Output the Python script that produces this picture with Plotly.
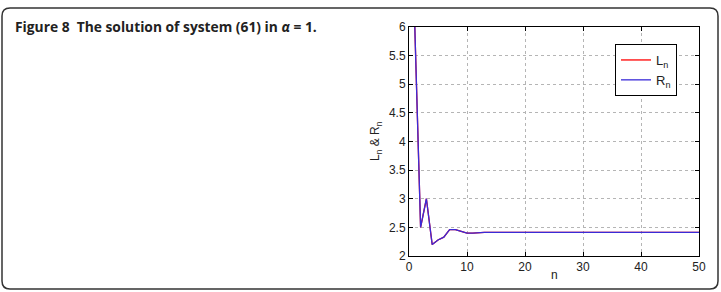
import plotly.graph_objects as go

n_vals = list(range(1, 51))
L_vals = [6.0, 2.5, 3.0, 2.2, 2.28, 2.33, 2.46, 2.46, 2.43, 2.40, 2.40, 2.41] + [2.414] * 38
R_vals = list(L_vals)
x_ticks = [0, 10, 20, 30, 40, 50]
y_ticks = [2, 2.5, 3, 3.5, 4, 4.5, 5, 5.5, 6]
y_tick_text = ["2", "2.5", "3", "3.5", "4", "4.5", "5", "5.5", "6"]

W, H = 721, 292
PL, PR, PT, PB = 409, 699, 27, 256

def px(x):
    return (x - PL) / (PR - PL)

def py(y):
    return (PB - y) / (PB - PT)

fig = go.Figure()
fig.add_trace(go.Scatter(x=n_vals, y=L_vals, mode="lines", name="L<sub>n</sub>",
                         line=dict(color="#ff0000", width=1.3)))
fig.add_trace(go.Scatter(x=n_vals, y=R_vals, mode="lines", name="R<sub>n</sub>",
                         line=dict(color="#3a2bd8", width=1.3)))

axis_common = dict(showline=True, linecolor="black", linewidth=1, mirror="ticks",
                   ticks="inside", ticklen=4, tickcolor="black",
                   showgrid=True, gridcolor="#b5b5b5", griddash="dot", gridwidth=1,
                   zeroline=False, tickfont=dict(family="Liberation Sans", size=12, color="#222"))

fig.update_xaxes(range=[0, 50], tickvals=x_ticks, **axis_common)
fig.update_yaxes(range=[2, 6], tickvals=y_ticks, ticktext=y_tick_text, **axis_common)

# card border with rounded corners
x0, y0, x1, y1, r = 2, 8, 718, 289, 8
path = (f"M {px(x0+r)},{py(y0)} L {px(x1-r)},{py(y0)} Q {px(x1)},{py(y0)} {px(x1)},{py(y0+r)} "
        f"L {px(x1)},{py(y1-r)} Q {px(x1)},{py(y1)} {px(x1-r)},{py(y1)} "
        f"L {px(x0+r)},{py(y1)} Q {px(x0)},{py(y1)} {px(x0)},{py(y1-r)} "
        f"L {px(x0)},{py(y0+r)} Q {px(x0)},{py(y0)} {px(x0+r)},{py(y0)} Z")
fig.add_shape(type="path", path=path, xref="paper", yref="paper",
              line=dict(color="#333333", width=1.5), layer="below")

fig.add_annotation(text="<b>Figure 8&nbsp;&nbsp;The solution of system (61) in <i>α</i> = 1.</b>",
                   x=px(13), y=py(26), xref="paper", yref="paper",
                   xanchor="left", yanchor="middle", showarrow=False,
                   font=dict(family="Open Sans", size=13.8, color="#222"))
fig.add_annotation(text="L<sub>n</sub> &amp; R<sub>n</sub>", textangle=-90,
                   x=px(376), y=py(141), xref="paper", yref="paper",
                   xanchor="center", yanchor="middle", showarrow=False,
                   font=dict(family="Liberation Sans", size=12, color="#222"))
fig.add_annotation(text="n", x=px(554), y=py(275), xref="paper", yref="paper",
                   xanchor="center", yanchor="middle", showarrow=False,
                   font=dict(family="Liberation Sans", size=12, color="#222"))

fig.update_layout(
    width=W, height=H,
    margin=dict(l=PL, r=W - PR, t=PT, b=H - PB),
    paper_bgcolor="white", plot_bgcolor="white",
    showlegend=True,
    legend=dict(x=px(615), y=py(44), xanchor="left", yanchor="top",
                bgcolor="white", bordercolor="black", borderwidth=1,
                font=dict(family="Liberation Sans", size=13, color="#222"),
                tracegroupgap=0, itemwidth=30),
)

fig.write_html("out.html")
